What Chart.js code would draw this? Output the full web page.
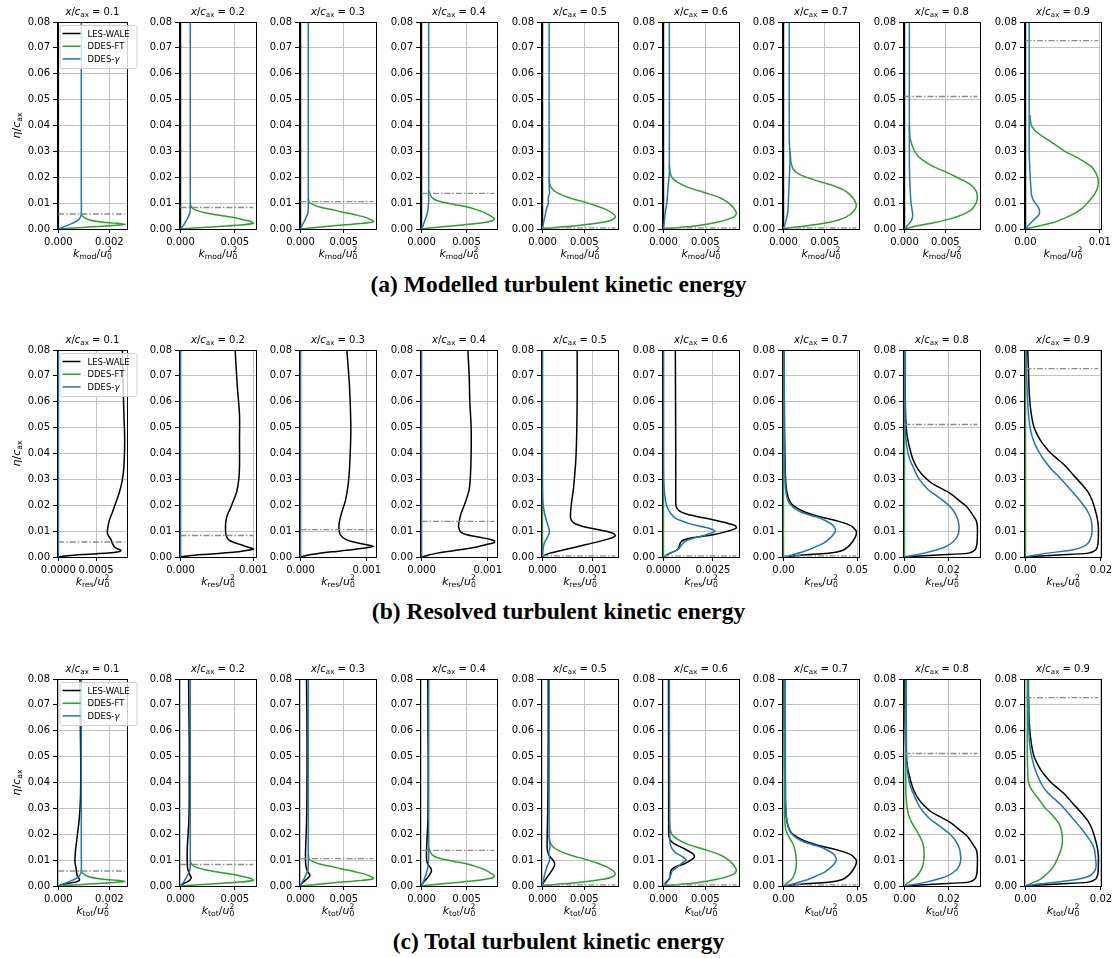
<!DOCTYPE html>
<html>
<head>
<meta charset="utf-8">
<script src="https://cdn.jsdelivr.net/npm/chart.js@4.4.1/dist/chart.umd.min.js"></script>
<style>
  body { margin: 0; background: #fff; width: 1117px; height: 958px; position: relative; overflow: hidden; }
  canvas { position: absolute; }
  .cap { position: absolute; left: 0; width: 1117px; text-align: center; font: bold 23.5px "Liberation Serif"; color: #000; line-height: 28px; }
</style>
</head>
<body>
<div class="cap" style="top:270px">(a) Modelled turbulent kinetic energy</div>
<div class="cap" style="top:597px">(b) Resolved turbulent kinetic energy</div>
<div class="cap" style="top:927px">(c) Total turbulent kinetic energy</div>
<script>
// stations along the axial chord
const stations = ['0.1', '0.2', '0.3', '0.4', '0.5', '0.6', '0.7', '0.8', '0.9'];
const seriesNames = ['LES-WALE', 'DDES-FT', 'DDES-γ'];
const seriesColors = ['#000000', '#2ca02c', '#1f77b4'];

// boundary layer edge (dash-dot line) per station
const deltaBL = [0.0058, 0.0083, 0.0106, 0.0138, 0.0004, 0.0004, 0.0004, 0.0512, 0.0728];
const etaTicks = [0, 0.01, 0.02, 0.03, 0.04, 0.05, 0.06, 0.07, 0.08];

// second x tick of each panel (first one is always zero)
const tickMod = ['0.002', '0.005', '0.005', '0.005', '0.005', '0.005', '0.005', '0.005', '0.01'];
const tickRes = ['0.0005', '0.001', '0.001', '0.001', '0.001', '0.0025', '0.05', '0.02', '0.02'];
const tickTot = ['0.002', '0.005', '0.005', '0.005', '0.005', '0.005', '0.05', '0.02', '0.02'];

// profiles as [eta, k] pairs
const Z = [[0, 0], [0.08, 0]];

const modLES = [Z, Z, Z, Z, Z, Z, Z, Z, Z];

// FT profiles stop where they join the DDES-γ line, which covers them above
const modFT = [
  [[0,0],[0.0005,0.0008],[0.001,0.0016],[0.0017,0.0026],[0.0022,0.0023],[0.0028,0.0016],[0.0036,0.0012],[0.0049,0.00095],[0.0065,0.0009]],
  [[0,0],[0.0007,0.0025],[0.0015,0.0055],[0.0022,0.0067],[0.003,0.0064],[0.004,0.0054],[0.005,0.004],[0.006,0.0026],[0.007,0.0016],[0.008,0.0011],[0.0095,0.0009]],
  [[0,0],[0.001,0.003],[0.002,0.0066],[0.0028,0.0084],[0.0035,0.0082],[0.0045,0.0075],[0.0055,0.0063],[0.0065,0.0049],[0.0075,0.0036],[0.0085,0.0022],[0.0095,0.0014],[0.0105,0.001],[0.012,0.0009]],
  [[0,0],[0.0005,0.0012],[0.0013,0.0036],[0.0022,0.0064],[0.003,0.0077],[0.0039,0.0081],[0.005,0.0077],[0.0065,0.0069],[0.0075,0.0061],[0.0085,0.0051],[0.0095,0.0036],[0.0105,0.0022],[0.0115,0.0014],[0.013,0.001],[0.015,0.0008]],
  [[0,0],[0.0005,0.0013],[0.0013,0.004],[0.0025,0.007],[0.0035,0.0083],[0.0047,0.0087],[0.006,0.0084],[0.0075,0.0076],[0.009,0.0064],[0.0105,0.0049],[0.012,0.0033],[0.0135,0.0021],[0.015,0.0013],[0.017,0.0009],[0.02,0.0008]],
  [[0,0],[0.0005,0.0015],[0.0013,0.004],[0.0026,0.0064],[0.0045,0.0083],[0.006,0.0087],[0.008,0.0084],[0.01,0.0078],[0.012,0.0068],[0.014,0.005],[0.016,0.003],[0.018,0.0017],[0.02,0.001],[0.022,0.0008],[0.025,0.0007]],
  [[0,0],[0.0005,0.0008],[0.0013,0.0029],[0.0026,0.0056],[0.0045,0.0075],[0.007,0.0085],[0.009,0.0088],[0.011,0.0086],[0.013,0.0081],[0.015,0.0073],[0.017,0.0058],[0.019,0.0037],[0.021,0.002],[0.023,0.0012],[0.026,0.0009],[0.03,0.0008]],
  [[0,0],[0.001,0.0012],[0.002,0.0029],[0.004,0.0057],[0.007,0.008],[0.0097,0.0087],[0.0123,0.0089],[0.015,0.0087],[0.0175,0.0079],[0.02,0.0064],[0.022,0.0051],[0.024,0.0036],[0.026,0.0025],[0.028,0.0017],[0.031,0.0011],[0.035,0.0007],[0.04,0.0006]],
  [[0,0],[0.001,0.0015],[0.0026,0.0039],[0.0045,0.0055],[0.006,0.0066],[0.008,0.0076],[0.01,0.0083],[0.0135,0.0093],[0.016,0.0097],[0.018,0.0098],[0.02,0.0097],[0.022,0.0094],[0.024,0.0089],[0.026,0.0079],[0.028,0.0067],[0.03,0.0053],[0.032,0.0043],[0.034,0.0033],[0.036,0.0022],[0.038,0.0013],[0.04,0.0008],[0.044,0.0006]]
];

const modGamma = [
  [[0,0],[0.001,0.00025],[0.002,0.0005],[0.003,0.00072],[0.0043,0.00085],[0.006,0.0009],[0.012,0.0009],[0.08,0.0009]],
  [[0,0],[0.0015,0.0003],[0.003,0.0005],[0.0045,0.0007],[0.006,0.00085],[0.008,0.0009],[0.015,0.0009],[0.08,0.0009]],
  [[0,0],[0.0015,0.0002],[0.003,0.00045],[0.0045,0.00065],[0.006,0.00085],[0.008,0.0009],[0.018,0.0009],[0.08,0.0009]],
  [[0,0],[0.0015,0.0002],[0.003,0.00035],[0.005,0.00055],[0.007,0.0007],[0.009,0.00076],[0.011,0.0008],[0.08,0.0008]],
  [[0,0],[0.002,0.0001],[0.005,0.0003],[0.008,0.0005],[0.01,0.0007],[0.012,0.0007],[0.014,0.00085],[0.016,0.0008],[0.08,0.0008]],
  [[0,0],[0.003,0.0001],[0.006,0.0002],[0.01,0.0004],[0.014,0.0005],[0.018,0.0006],[0.022,0.0007],[0.08,0.0007]],
  [[0,0],[0.002,0.0002],[0.006,0.0005],[0.011,0.0006],[0.019,0.0007],[0.028,0.0008],[0.035,0.0007],[0.08,0.0007]],
  [[0,0],[0.0015,0.0004],[0.003,0.0008],[0.005,0.001],[0.007,0.00095],[0.01,0.0008],[0.015,0.0007],[0.025,0.0006],[0.08,0.0006]],
  [[0,0],[0.001,0.0003],[0.0026,0.0008],[0.004,0.0013],[0.0055,0.0018],[0.0068,0.0019],[0.008,0.0018],[0.0097,0.0014],[0.0115,0.001],[0.0135,0.0008],[0.017,0.0007],[0.022,0.0006],[0.03,0.0005],[0.08,0.0005]]
];

const resLES = [
  [[0,0],[0.0005,0.00012],[0.001,0.00036],[0.0015,0.00066],[0.002,0.0008],[0.0026,0.00083],[0.0035,0.00076],[0.005,0.00072],[0.0067,0.0007],[0.0085,0.00066],[0.0099,0.00065],[0.012,0.00066],[0.0145,0.00068],[0.0175,0.00072],[0.02,0.00075],[0.025,0.00081],[0.03,0.00085],[0.035,0.00087],[0.045,0.00088],[0.055,0.00087],[0.065,0.00086],[0.08,0.00085]],
  [[0,0],[0.0005,0.00012],[0.001,0.00033],[0.0018,0.00072],[0.0025,0.0009],[0.0031,0.001],[0.0038,0.00093],[0.0048,0.00082],[0.0058,0.00072],[0.0067,0.00066],[0.008,0.00063],[0.0095,0.00062],[0.013,0.00062],[0.016,0.00064],[0.0185,0.00068],[0.022,0.00073],[0.025,0.00077],[0.03,0.0008],[0.035,0.00081],[0.045,0.00081],[0.055,0.00081],[0.066,0.00078],[0.08,0.00075]],
  [[0,0],[0.0007,0.0001],[0.0013,0.00025],[0.002,0.00048],[0.0026,0.0007],[0.0035,0.00097],[0.0041,0.0011],[0.0047,0.001],[0.0055,0.00085],[0.0067,0.00069],[0.0086,0.0006],[0.0118,0.00058],[0.014,0.00059],[0.017,0.00062],[0.022,0.00068],[0.028,0.00072],[0.034,0.00074],[0.049,0.00076],[0.066,0.00074],[0.08,0.0007]],
  [[0,0],[0.0007,0.0001],[0.0015,0.00024],[0.0028,0.00058],[0.004,0.00085],[0.0048,0.00098],[0.0056,0.0011],[0.0062,0.0011],[0.0068,0.00104],[0.0075,0.0009],[0.0085,0.0007],[0.0095,0.0006],[0.0115,0.00056],[0.014,0.00057],[0.017,0.0006],[0.021,0.00066],[0.026,0.00072],[0.032,0.00074],[0.04,0.00075],[0.05,0.00075],[0.06,0.00073],[0.07,0.00072],[0.08,0.0007]],
  [[0,0],[0.0007,0.00005],[0.0015,0.00015],[0.0028,0.00043],[0.0048,0.00087],[0.0069,0.0013],[0.0082,0.00145],[0.0092,0.0014],[0.0102,0.0012],[0.0112,0.00094],[0.0122,0.00074],[0.0132,0.00062],[0.015,0.00056],[0.0196,0.00057],[0.027,0.00062],[0.04,0.00067],[0.06,0.00069],[0.08,0.00069]],
  [[0,0],[0.0015,0.00034],[0.0028,0.0007],[0.004,0.0008],[0.0055,0.00085],[0.0065,0.001],[0.0075,0.0015],[0.0086,0.0025],[0.0099,0.0032],[0.0112,0.00368],[0.0122,0.0036],[0.0133,0.0031],[0.0144,0.0025],[0.0155,0.0018],[0.0165,0.0012],[0.0178,0.0008],[0.0195,0.00064],[0.022,0.00062],[0.04,0.00062],[0.08,0.0006]],
  [[0,0],[0.0005,0.008],[0.001,0.018],[0.0015,0.032],[0.0025,0.04],[0.004,0.044],[0.006,0.047],[0.008,0.049],[0.0099,0.0495],[0.011,0.048],[0.012,0.046],[0.013,0.042],[0.014,0.036],[0.015,0.029],[0.016,0.022],[0.0175,0.014],[0.019,0.009],[0.0205,0.0055],[0.023,0.0032],[0.027,0.0018],[0.034,0.0012],[0.05,0.0007],[0.08,0.0005]],
  [[0,0],[0.0004,0.007],[0.0008,0.0155],[0.0015,0.029],[0.0028,0.032],[0.005,0.0328],[0.008,0.033],[0.0118,0.033],[0.014,0.0325],[0.0157,0.0313],[0.018,0.0295],[0.0196,0.028],[0.022,0.0245],[0.0247,0.0205],[0.027,0.0155],[0.0286,0.0122],[0.031,0.009],[0.0337,0.0063],[0.037,0.0042],[0.04,0.003],[0.0463,0.0013],[0.053,0.0006],[0.065,0.0003],[0.08,0.0002]],
  [[0,0],[0.0004,0.004],[0.0008,0.0088],[0.0015,0.0166],[0.0028,0.0187],[0.005,0.0192],[0.008,0.0193],[0.0118,0.0193],[0.015,0.019],[0.018,0.0185],[0.0221,0.0176],[0.025,0.0166],[0.0286,0.0146],[0.032,0.0125],[0.035,0.0107],[0.0375,0.0088],[0.04,0.0068],[0.043,0.005],[0.0453,0.0039],[0.048,0.0029],[0.0504,0.0022],[0.0556,0.0015],[0.0633,0.001],[0.0723,0.0008],[0.08,0.0006]]
];

const resFT = [Z, Z, Z, Z, Z, Z, Z, Z, Z];

const resGamma = [
  Z, Z, Z, Z,
  [[0,0],[0.004,0.00002],[0.006,0.00005],[0.008,0.00011],[0.0099,0.00014],[0.0115,0.00012],[0.014,0.00008],[0.017,0.00004],[0.021,0.00001],[0.03,0],[0.08,0]],
  [[0,0],[0.001,0.0002],[0.002,0.0005],[0.003,0.00075],[0.0045,0.0009],[0.006,0.0011],[0.007,0.0014],[0.008,0.0019],[0.009,0.0023],[0.0099,0.0026],[0.0108,0.0024],[0.0118,0.0019],[0.0129,0.0013],[0.014,0.0009],[0.015,0.0006],[0.017,0.00035],[0.019,0.0002],[0.022,0.0001],[0.027,0.00003],[0.035,0],[0.08,0]],
  [[0,0],[0.001,0.007],[0.0022,0.0143],[0.004,0.022],[0.0054,0.0273],[0.007,0.031],[0.0086,0.0338],[0.0099,0.0352],[0.011,0.035],[0.0125,0.033],[0.0144,0.0273],[0.0155,0.022],[0.0165,0.016],[0.0175,0.0115],[0.0185,0.0082],[0.0198,0.0055],[0.021,0.0038],[0.023,0.0024],[0.027,0.0013],[0.034,0.0009],[0.05,0.0006],[0.08,0.0005]],
  [[0,0],[0.0005,0.003],[0.0015,0.009],[0.003,0.0155],[0.0041,0.019],[0.0055,0.0215],[0.0067,0.023],[0.0085,0.0242],[0.0105,0.0247],[0.0125,0.0246],[0.0144,0.0242],[0.017,0.0228],[0.0196,0.0205],[0.022,0.0172],[0.0241,0.0138],[0.026,0.0108],[0.0286,0.008],[0.031,0.006],[0.035,0.0038],[0.038,0.0023],[0.0414,0.0013],[0.046,0.0006],[0.055,0.0003],[0.08,0.0002]],
  [[0,0],[0.0005,0.0018],[0.0015,0.0059],[0.0028,0.0127],[0.004,0.0152],[0.0054,0.0166],[0.007,0.0172],[0.0093,0.0176],[0.012,0.0176],[0.0144,0.0174],[0.017,0.0167],[0.0196,0.0156],[0.022,0.0143],[0.0247,0.0127],[0.028,0.0107],[0.0311,0.0088],[0.034,0.0068],[0.0376,0.0049],[0.041,0.0034],[0.044,0.0024],[0.047,0.0017],[0.0504,0.0012],[0.055,0.0008],[0.06,0.0006],[0.07,0.0003],[0.08,0.0002]]
];

// total k: LES has no modelled part, FT has no resolved part;
// far downstream the FT line stays visible up to the top of the panel
const totLES = resLES;
const totFT = [
  modFT[0], modFT[1], modFT[2], modFT[3], modFT[4], modFT[5],
  [...modFT[6], [0.045, 0.0007], [0.08, 0.0007]],
  [...modFT[7], [0.05, 0.0006], [0.08, 0.0006]],
  [...modFT[8], [0.05, 0.0005], [0.08, 0.0005]]
];
const totGamma = [
  modGamma[0], modGamma[1], modGamma[2], modGamma[3],
  [[0,0],[0.002,0.0001],[0.005,0.0003],[0.008,0.0006],[0.0098,0.00084],[0.0115,0.00082],[0.013,0.00078],[0.015,0.0009],[0.017,0.00085],[0.02,0.0008],[0.08,0.0008]],
  [[0,0],[0.001,0.0003],[0.0023,0.0006],[0.004,0.00085],[0.0055,0.001],[0.0065,0.0013],[0.0075,0.0017],[0.0088,0.0022],[0.0099,0.0027],[0.0108,0.0025],[0.0118,0.002],[0.013,0.0014],[0.0145,0.001],[0.0165,0.0008],[0.02,0.00075],[0.08,0.0007]],
  [[0,0],[0.001,0.0075],[0.0022,0.015],[0.004,0.0227],[0.0054,0.028],[0.007,0.0317],[0.0086,0.0345],[0.0099,0.0358],[0.011,0.0356],[0.0125,0.0337],[0.0144,0.028],[0.0155,0.0227],[0.0165,0.0167],[0.0175,0.0122],[0.0185,0.0089],[0.0198,0.0062],[0.021,0.0045],[0.023,0.0031],[0.027,0.002],[0.034,0.0015],[0.05,0.0013],[0.08,0.0012]],
  [[0,0],[0.0005,0.0035],[0.0015,0.0098],[0.003,0.0165],[0.0041,0.02],[0.0055,0.0225],[0.0067,0.024],[0.0085,0.0251],[0.0105,0.0255],[0.0125,0.0253],[0.0144,0.0249],[0.017,0.0235],[0.0196,0.0211],[0.022,0.0178],[0.0241,0.0144],[0.026,0.0114],[0.0286,0.0086],[0.031,0.0066],[0.035,0.0044],[0.038,0.0029],[0.0414,0.0019],[0.046,0.0012],[0.055,0.0009],[0.08,0.0008]],
  [[0,0],[0.0005,0.0022],[0.001,0.0051],[0.0023,0.0126],[0.0033,0.0158],[0.0043,0.0174],[0.0062,0.0185],[0.008,0.0187],[0.01,0.0186],[0.0139,0.0183],[0.0165,0.0176],[0.0191,0.0164],[0.022,0.0149],[0.0243,0.0136],[0.0275,0.0117],[0.0307,0.0098],[0.0335,0.0078],[0.0359,0.006],[0.038,0.0048],[0.041,0.0037],[0.0462,0.0023],[0.0527,0.0013],[0.06,0.0009],[0.08,0.0008]]
];

const rows = [
  { kind: 'mod', sets: [modLES, modFT, modGamma], ticks: tickMod },
  { kind: 'res', sets: [resLES, resFT, resGamma], ticks: tickRes },
  { kind: 'tot', sets: [totLES, totFT, totGamma], ticks: tickTot }
];

// page layout of the plot areas
const colLeft = [57, 179, 299, 420, 541, 662, 782, 903, 1024];
const colWidth = [71, 78, 78, 78, 78, 78, 78, 78, 78];
const rowTop = [22, 350, 679];
const plotH = 207;
const PAD_L = 50, PAD_T = 24, PAD_R = 18, PAD_B = 46;
const FONT = '"DejaVu Sans"';

// small mathtext-like renderer: italic runs, subscripts, stacked super/sub
function partFont(p, size) {
  const s = (p.sub || p.sup) ? size * 0.7 : size;
  return (p.it ? 'italic ' : '') + s + 'px ' + FONT;
}
function drawMath(ctx, parts, x, y, size, align) {
  const widths = parts.map(p => {
    ctx.font = partFont(p, size);
    let w = ctx.measureText(p.t).width;
    if (p.over) w = Math.max(w, ctx.measureText(p.over).width);
    return w;
  });
  const total = widths.reduce((a, b) => a + b, 0);
  let cx = align === 'center' ? x - total / 2 : x;
  ctx.textAlign = 'left';
  ctx.textBaseline = 'alphabetic';
  parts.forEach((p, i) => {
    ctx.font = partFont(p, size);
    const dy = p.sub ? size * 0.22 : (p.sup ? -size * 0.42 : 0);
    ctx.fillText(p.t, cx, y + dy);
    if (p.over) ctx.fillText(p.over, cx, y - size * 0.42);
    cx += widths[i];
  });
}

function nameParts(name) {
  const i = name.indexOf('γ');
  if (i < 0) return [{ t: name }];
  return [{ t: name.slice(0, i) }, { t: 'γ', it: 1 }];
}

function makeDecor(r, c) {
  return {
    id: 'decor',
    afterDraw(chart) {
      const ctx = chart.ctx;
      const a = chart.chartArea;
      ctx.save();
      // axes frame
      ctx.strokeStyle = '#000';
      ctx.lineWidth = 1;
      ctx.strokeRect(a.left + 0.5, a.top + 0.5, a.right - a.left - 1, a.bottom - a.top);
      ctx.fillStyle = '#000';
      const mid = (a.left + a.right) / 2;
      // station title
      drawMath(ctx, [{ t: 'x', it: 1 }, { t: '/' }, { t: 'c', it: 1 }, { t: 'ax', sub: 1 }, { t: ' = ' + stations[c] }],
        mid, a.top - 7, 10, 'center');
      // x axis label
      drawMath(ctx, [{ t: 'k', it: 1 }, { t: rows[r].kind, sub: 1 }, { t: '/' }, { t: 'u', it: 1 }, { t: '0', sub: 1, over: '2' }],
        mid, a.bottom + 28, 11, 'center');
      if (c === 0) {
        // y axis label
        ctx.save();
        ctx.translate(a.left - 37, (a.top + a.bottom) / 2);
        ctx.rotate(-Math.PI / 2);
        drawMath(ctx, [{ t: 'η', it: 1 }, { t: '/' }, { t: 'c', it: 1 }, { t: 'ax', sub: 1 }], 0, 0, 11, 'center');
        ctx.restore();
        // legend
        const bx = a.left + 2.5, by = a.top + 3, bw = 77, bh = 43;
        ctx.beginPath();
        ctx.roundRect(bx + 0.5, by + 0.5, bw, bh, 2);
        ctx.fillStyle = 'rgba(255,255,255,0.8)';
        ctx.fill();
        ctx.strokeStyle = '#d0d0d0';
        ctx.lineWidth = 1;
        ctx.stroke();
        seriesNames.forEach((name, i) => {
          const yy = by + 8.5 + i * 12.7;
          ctx.strokeStyle = seriesColors[i];
          ctx.lineWidth = 1.5;
          ctx.beginPath();
          ctx.moveTo(bx + 3, yy);
          ctx.lineTo(bx + 21, yy);
          ctx.stroke();
          ctx.fillStyle = '#000';
          drawMath(ctx, nameParts(name), bx + 28, yy + 3, 8.5, 'left');
        });
      }
      ctx.restore();
    }
  };
}

function makePanel(r, c) {
  const row = rows[r];
  const canvas = document.createElement('canvas');
  canvas.width = PAD_L + colWidth[c] + PAD_R;
  canvas.height = PAD_T + plotH + PAD_B;
  canvas.style.left = (colLeft[c] - PAD_L) + 'px';
  canvas.style.top = (rowTop[r] - PAD_T) + 'px';
  document.body.appendChild(canvas);

  const profiles = row.sets.map(s => s[c]);
  const kMax = Math.max(...profiles.flat().map(p => p[1]));
  const tickStr = row.ticks[c];
  const dec = tickStr.split('.')[1].length;
  const tickVal = parseFloat(tickStr);

  const datasets = profiles.map((prof, i) => ({
    label: seriesNames[i],
    data: prof.map(p => ({ x: p[1], y: p[0] })),
    borderColor: seriesColors[i],
    borderWidth: 1.5,
    showLine: true,
    tension: 0.3,
    order: 3 - i
  }));
  datasets.push({
    label: 'delta',
    data: [{ x: 0, y: deltaBL[c] }, { x: kMax, y: deltaBL[c] }],
    borderColor: '#8c8c8c',
    borderWidth: 1.3,
    borderDash: [6, 2, 1.5, 2],
    showLine: true,
    tension: 0,
    order: 0
  });

  const tickFont = { family: 'DejaVu Sans', size: 10 };
  new Chart(canvas, {
    type: 'scatter',
    data: { datasets },
    options: {
      responsive: false,
      animation: false,
      devicePixelRatio: 1,
      elements: { point: { radius: 0 } },
      layout: { padding: { top: PAD_T, right: PAD_R, bottom: 0, left: 0 } },
      plugins: { legend: { display: false }, tooltip: { enabled: false } },
      scales: {
        x: {
          type: 'linear',
          min: -0.02 * kMax,
          max: 1.05 * kMax,
          afterBuildTicks: s => { s.ticks = [{ value: 0 }, { value: tickVal }]; },
          afterFit: s => { s.height = PAD_B; },
          ticks: { callback: v => v.toFixed(dec), font: tickFont, color: '#000', padding: 3, maxRotation: 0, autoSkip: false },
          grid: { color: '#c2c2c2', lineWidth: 1, tickLength: 4, tickColor: '#000' },
          border: { display: false }
        },
        y: {
          type: 'linear',
          min: 0,
          max: 0.08,
          afterBuildTicks: s => { s.ticks = etaTicks.map(v => ({ value: v })); },
          afterFit: s => { s.width = PAD_L; },
          ticks: { callback: v => v.toFixed(2), font: tickFont, color: '#000', padding: 3, autoSkip: false },
          grid: { color: '#c2c2c2', lineWidth: 1, tickLength: 4, tickColor: '#000' },
          border: { display: false }
        }
      }
    },
    plugins: [makeDecor(r, c)]
  });
}

for (let r = 0; r < rows.length; r++) {
  for (let c = 0; c < stations.length; c++) makePanel(r, c);
}
</script>
</body>
</html>
